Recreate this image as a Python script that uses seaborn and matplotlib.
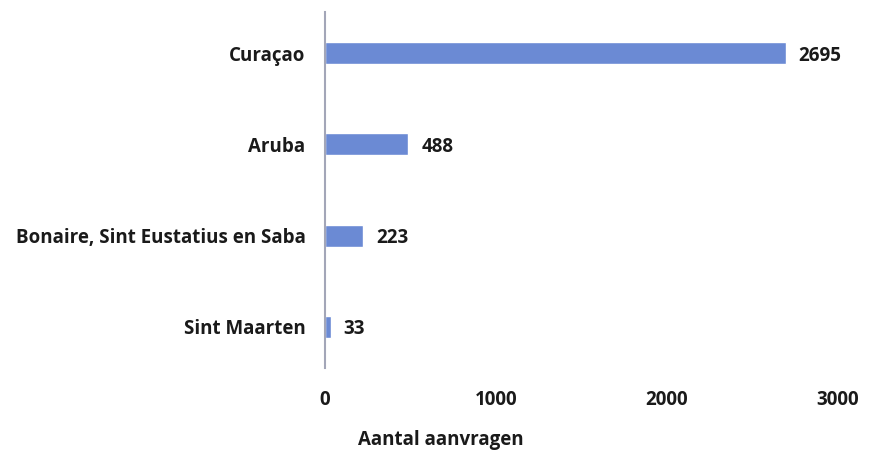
import matplotlib
matplotlib.use("Agg")
import matplotlib.pyplot as plt
import seaborn as sns
import pandas as pd

regios = ["Curaçao", "Aruba", "Bonaire, Sint Eustatius en Saba", "Sint Maarten"]
aanvragen = [2695, 488, 223, 33]
x_ticks = [0, 1000, 2000, 3000]

bar_kleur = "#6b8ad4"
tekst_kleur = "#1a1a1a"
fs = 13.5

sns.set_theme(style="white")
plt.rcParams["font.family"] = ["Open Sans", "DejaVu Sans"]

df = pd.DataFrame({"regio": regios, "aantal": aanvragen})

fig = plt.figure(figsize=(8.7, 4.57), dpi=100)
ax = fig.add_axes([325 / 870, 1 - 368 / 457, (838 - 325) / 870, (368 - 12) / 457])

sns.barplot(data=df, x="aantal", y="regio", orient="h", color=bar_kleur,
            width=0.24, saturation=1, ax=ax)

# waarde naast elke balk
for i, v in enumerate(aanvragen):
    ax.text(v + 75, i, str(v), va="center_baseline", ha="left", fontsize=fs,
            fontweight="bold", color=tekst_kleur)

ax.set_xlim(0, 3000)
ax.set_ylim(3.45, -0.45)
ax.set_xticks(x_ticks)
ax.set_xticklabels([str(t) for t in x_ticks])
ax.tick_params(axis="both", length=0, labelsize=fs, colors=tekst_kleur)
ax.tick_params(axis="x", pad=16)
ax.tick_params(axis="y", pad=14)
for lbl in ax.get_xticklabels() + ax.get_yticklabels():
    lbl.set_fontweight("bold")

ax.set_xlabel("")
ax.set_ylabel("")
for side in ["top", "right", "bottom"]:
    ax.spines[side].set_visible(False)
ax.spines["left"].set_color("#a3a6b8")
ax.spines["left"].set_linewidth(1.5)

fig.text(441 / 870, 1 - 440 / 457, "Aantal aanvragen", ha="center", va="center",
         fontsize=fs, fontweight="bold", color=tekst_kleur)

fig.savefig("out.png", dpi=100)
